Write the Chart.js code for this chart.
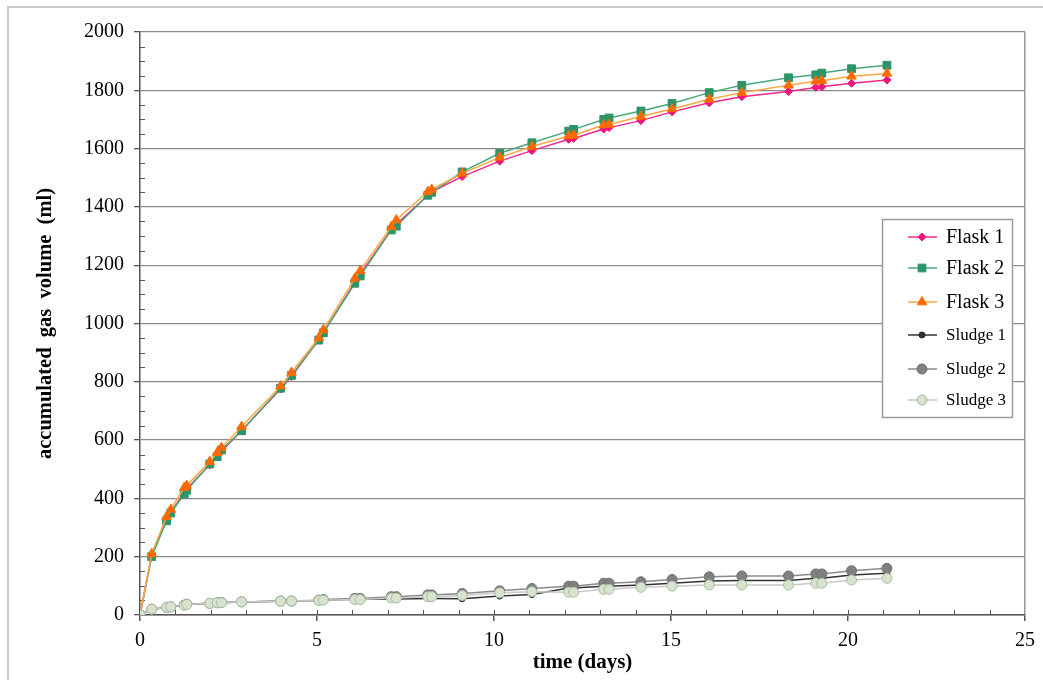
<!DOCTYPE html>
<html>
<head>
<meta charset="utf-8">
<title>Accumulated gas volume</title>
<script src="https://cdn.jsdelivr.net/npm/chart.js@4.4.1/dist/chart.umd.min.js"></script>
<style>
    html, body { margin: 0; padding: 0; background: #fff; }
    #wrap { position: relative; width: 1043px; height: 680px; overflow: hidden; }
    #frame {
        position: absolute; left: 7px; top: 6px; width: 1100px; height: 700px;
        border-left: 2px solid #c8c8c8; border-top: 2px solid #c8c8c8;
    }
    #chart { position: absolute; left: 0; top: 0; }
</style>
</head>
<body>
<div id="wrap">
    <div id="frame"></div>
    <canvas id="chart" width="1043" height="680"></canvas>
</div>
<script>
// Sampling times (days)
const days = [0, 0.33, 0.75, 0.87, 1.25, 1.32, 1.97, 2.18, 2.3, 2.87, 3.97, 4.28, 5.05, 5.18,
    6.07, 6.22, 7.1, 7.24, 8.13, 8.24, 9.1, 10.16, 11.07, 12.11, 12.25, 13.1, 13.25, 14.15,
    15.03, 16.08, 17.0, 18.32, 19.09, 19.26, 20.1, 21.1];

// Accumulated gas volume (ml)
const flask1 = [0, 205, 330, 352, 420, 432, 515, 548, 562, 632, 775, 818, 945, 968,
    1142, 1168, 1322, 1340, 1440, 1452, 1504, 1557, 1593, 1632, 1635, 1667, 1672, 1696,
    1726, 1757, 1778, 1796, 1810, 1812, 1824, 1835];
const flask2 = [0, 200, 323, 350, 415, 428, 518, 543, 566, 632, 778, 822, 943, 968,
    1138, 1163, 1321, 1334, 1440, 1450, 1520, 1584, 1620, 1660, 1666, 1700, 1705, 1729,
    1755, 1792, 1817, 1843, 1853, 1859, 1874, 1886];
const flask3 = [0, 210, 337, 362, 437, 444, 526, 557, 574, 646, 785, 832, 950, 978,
    1155, 1181, 1332, 1355, 1452, 1460, 1515, 1570, 1607, 1643, 1646, 1681, 1683, 1710,
    1736, 1769, 1792, 1817, 1831, 1833, 1848, 1858];
const sludge1 = [0, 20, 26, 28, 33, 36, 40, 42, 42, 45, 47, 48, 50, 51,
    54, 54, 55, 55, 57, 57, 56, 65, 70, 93, 93, 99, 99, 103,
    109, 117, 118, 118, 126, 126, 137, 143];
const sludge2 = [0, 20, 26, 28, 34, 37, 40, 42, 43, 45, 48, 48, 51, 53,
    57, 57, 63, 63, 69, 69, 74, 83, 91, 99, 99, 109, 109, 114,
    122, 131, 134, 134, 141, 141, 152, 160];
const sludge3 = [0, 20, 26, 28, 33, 36, 40, 42, 42, 45, 47, 48, 50, 51,
    53, 53, 58, 58, 63, 63, 67, 76, 80, 78, 78, 88, 88, 95,
    99, 103, 103, 103, 109, 109, 120, 126];

const serif = '"Liberation Serif", "Times New Roman", serif';

function toPoints(values) {
    return days.map((d, i) => ({ x: d, y: values[i] }));
}

function series(label, values, line, fill, border, style, radius, order) {
    return {
        label,
        data: toPoints(values),
        showLine: true,
        borderColor: line,
        borderWidth: 1.5,
        pointBackgroundColor: fill,
        pointBorderColor: border,
        pointBorderWidth: 1,
        pointStyle: style,
        pointRadius: radius,
        order
    };
}

// Small inside ticks on both axes
const minorTicks = {
    id: 'minorTicks',
    beforeDatasetsDraw(chart) {
        const { ctx, chartArea, scales } = chart;
        ctx.save();
        ctx.strokeStyle = '#555';
        ctx.lineWidth = 1;
        ctx.beginPath();
        for (let d = 1; d < 25; d++) {
            const px = Math.round(scales.x.getPixelForValue(d)) + 0.5;
            ctx.moveTo(px, chartArea.bottom);
            ctx.lineTo(px, chartArea.bottom - 5);
        }
        for (let v = 50; v < 2000; v += 50) {
            if (v % 200 === 0) continue;
            const py = Math.round(scales.y.getPixelForValue(v)) + 0.5;
            ctx.moveTo(chartArea.left, py);
            ctx.lineTo(chartArea.left + 5, py);
        }
        ctx.stroke();
        ctx.restore();
    }
};

// Boxed legend inside the plot, right side
const legendBox = {
    id: 'legendBox',
    afterDraw(chart) {
        const ctx = chart.ctx;
        const rows = [237, 268, 302, 335, 369, 400];
        ctx.save();
        ctx.fillStyle = '#fff';
        ctx.fillRect(882, 219, 130, 199);
        ctx.strokeStyle = '#9a9a9a';
        ctx.lineWidth = 1.5;
        ctx.strokeRect(882.5, 219.5, 130, 198);
        chart.data.datasets.forEach((ds, i) => {
            const y = rows[i];
            ctx.strokeStyle = ds.borderColor;
            ctx.lineWidth = ds.borderWidth;
            ctx.beginPath();
            ctx.moveTo(908, y);
            ctx.lineTo(937, y);
            ctx.stroke();
            ctx.fillStyle = ds.pointBackgroundColor;
            ctx.strokeStyle = ds.pointBorderColor;
            ctx.lineWidth = 1;
            Chart.helpers.drawPoint(ctx, {
                pointStyle: ds.pointStyle, radius: ds.pointRadius, rotation: 0, borderWidth: 1
            }, 922, y);
            ctx.fillStyle = '#000';
            ctx.textBaseline = 'middle';
            ctx.font = (i < 3 ? '20px ' : '17px ') + serif;
            ctx.fillText(ds.label, 946, y + 1);
        });
        ctx.restore();
    }
};

new Chart(document.getElementById('chart'), {
    type: 'scatter',
    data: {
        datasets: [
            series('Flask 1', flask1, '#f0288c', '#f0147d', '#f0147d', 'rectRot', 4, 3),
            series('Flask 2', flask2, '#4aa97c', '#2e9468', '#2e9468', 'rect', 5.5, 2),
            series('Flask 3', flask3, '#ffa640', '#ff6a00', '#ff6a00', 'triangle', 5.5, 1),
            series('Sludge 1', sludge1, '#333333', '#333333', '#222222', 'circle', 3, 6),
            series('Sludge 2', sludge2, '#8a8a8a', '#808080', '#707070', 'circle', 5, 5),
            series('Sludge 3', sludge3, '#c8c8c8', '#d7e2cf', '#a9bfa0', 'circle', 5, 0)
        ]
    },
    options: {
        responsive: false,
        animation: false,
        layout: { padding: { left: 0, right: 17, top: 32, bottom: 0 } },
        plugins: {
            legend: { display: false },
            tooltip: { enabled: false }
        },
        scales: {
            x: {
                type: 'linear',
                min: 0,
                max: 25,
                ticks: {
                    stepSize: 5, color: '#000', padding: 8,
                    font: { family: serif, size: 20 },
                    callback: (v) => String(v)
                },
                grid: {
                    color: (c) => (c.tick && c.tick.value === 25 ? '#9a9a9a' : 'rgba(0,0,0,0)'),
                    tickColor: '#555',
                    tickLength: 6,
                    lineWidth: 1.5
                },
                border: { color: '#555', width: 1.5 },
                title: {
                    display: true,
                    text: 'time (days)',
                    color: '#000',
                    padding: { top: 0, bottom: 5 },
                    font: { family: serif, size: 21, weight: 'bold' }
                },
                afterFit: (s) => { s.height = 65; }
            },
            y: {
                min: 0,
                max: 2000,
                ticks: {
                    stepSize: 200, color: '#000', padding: 10,
                    font: { family: serif, size: 20 },
                    callback: (v) => String(v)
                },
                grid: {
                    color: '#8a8a8a',
                    tickColor: '#555',
                    tickLength: 6,
                    lineWidth: 1.3
                },
                border: { color: '#555', width: 1.5 },
                title: {
                    display: true,
                    text: 'accumulated  gas  volume  (ml)',
                    color: '#000',
                    padding: { top: 33, bottom: 0 },
                    font: { family: serif, size: 20.5, weight: 'bold' }
                },
                afterFit: (s) => { s.width = 140; }
            }
        }
    },
    plugins: [minorTicks, legendBox]
});
</script>
</body>
</html>
